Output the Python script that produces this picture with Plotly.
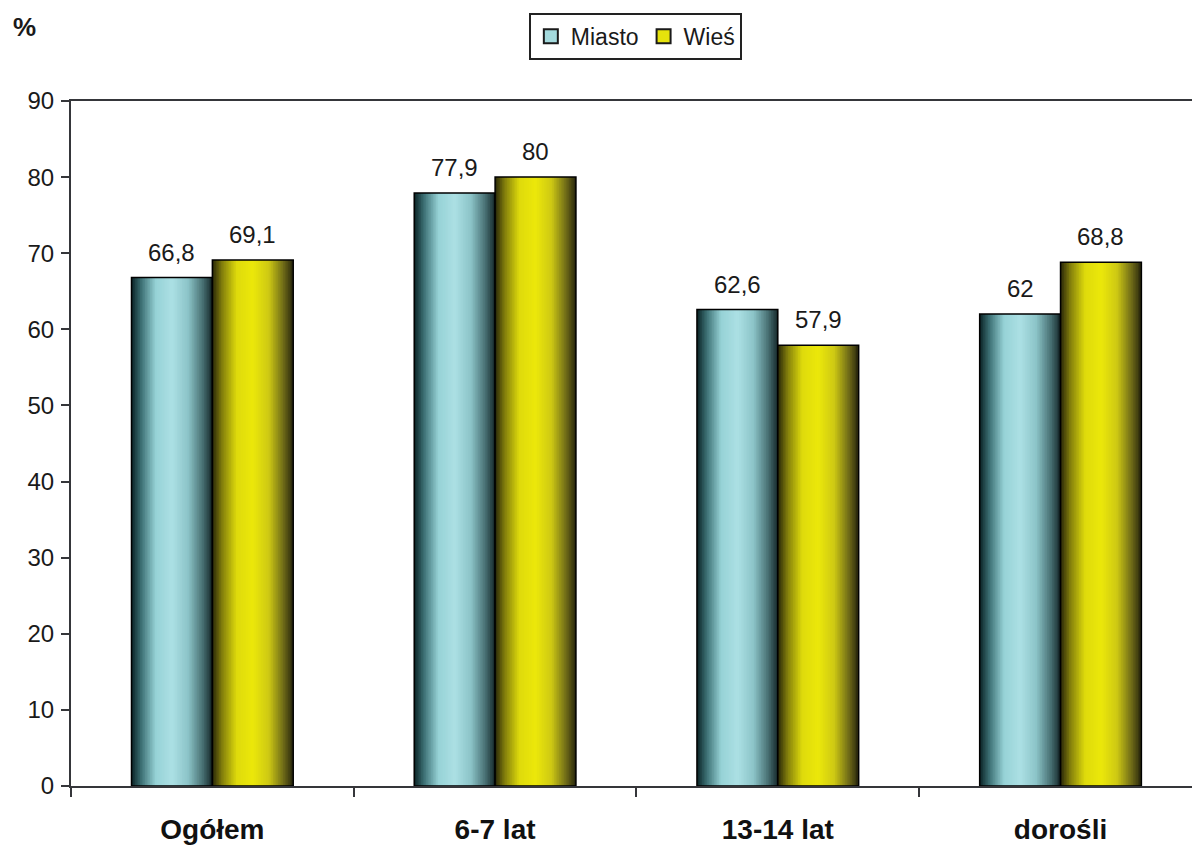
import numpy as np
import plotly.graph_objects as go

# Data
categories = ["Ogółem", "6-7 lat", "13-14 lat", "dorośli"]
miasto = [66.8, 77.9, 62.6, 62.0]
wies = [69.1, 80.0, 57.9, 68.8]
series_names = ["Miasto", "Wieś"]
y_ticks = [0, 10, 20, 30, 40, 50, 60, 70, 80, 90]

FONT = "Liberation Sans, Arial, sans-serif"
TEXT = "#1a1a1a"
AXIS = "#35363a"

BAR_W = 0.286      # width of one bar in category units
N_SLICES = 48      # vertical strips used to shade each bar like a cylinder

# horizontal shading profiles (position across bar -> colour)
grad_miasto = [(0.00, (10, 34, 36)), (0.12, (60, 112, 116)), (0.30, (150, 210, 214)),
               (0.50, (172, 224, 228)), (0.70, (140, 196, 200)), (0.88, (72, 112, 115)),
               (1.00, (22, 40, 42))]
grad_wies = [(0.00, (40, 38, 8)), (0.12, (130, 126, 12)), (0.30, (222, 218, 12)),
             (0.50, (236, 232, 10)), (0.70, (205, 200, 20)), (0.88, (110, 106, 24)),
             (1.00, (40, 38, 12))]


def shade(stops, t):
    xs = [s[0] for s in stops]
    rgb = [np.interp(t, xs, [s[1][k] for s in stops]) for k in range(3)]
    return "rgb({:d},{:d},{:d})".format(*[int(round(c)) for c in rgb])


def fmt(v):
    return f"{v:g}".replace(".", ",")


fig = go.Figure()
annotations = []

step = BAR_W / N_SLICES
for values, stops, start in [(miasto, grad_miasto, -BAR_W), (wies, grad_wies, 0.0)]:
    for i in range(N_SLICES):
        t = (i + 0.5) / N_SLICES
        w = min(step * 1.8, BAR_W - i * step)
        fig.add_trace(go.Bar(
            x=categories, y=values, offset=start + i * step, width=w,
            marker=dict(color=shade(stops, t), line=dict(width=0)),
            showlegend=False, hoverinfo="skip",
        ))
    # outline
    fig.add_trace(go.Bar(
        x=categories, y=values, offset=start, width=BAR_W,
        marker=dict(color="rgba(0,0,0,0)", line=dict(color="#000000", width=1.5)),
        showlegend=False,
    ))
    # value labels above each bar
    for k, v in enumerate(values):
        annotations.append(dict(
            x=k + start + BAR_W / 2, y=v, xref="x", yref="y",
            text=fmt(v), showarrow=False, xanchor="center", yanchor="bottom",
            yshift=10, font=dict(family=FONT, size=24, color=TEXT),
        ))

# legend entries
for name, col in zip(series_names, ["#a4dadd", "#e6e30c"]):
    fig.add_trace(go.Scatter(
        x=[None], y=[None], name=name, mode="markers",
        marker=dict(symbol="square", size=14, color=col,
                    line=dict(color="#1a1a1a", width=2)),
    ))

annotations.append(dict(
    text="%", xref="paper", yref="paper", x=-0.0535, y=1.108,
    xanchor="left", yanchor="middle", showarrow=False,
    font=dict(family=FONT, size=26, color=TEXT, weight="bold"),
))

fig.update_layout(
    width=1192, height=849,
    margin=dict(l=71, r=0, t=101, b=63),
    paper_bgcolor="white", plot_bgcolor="white",
    barmode="overlay",
    font=dict(family=FONT, color=TEXT),
    legend=dict(
        orientation="h", xref="container", yref="container",
        x=0.533, y=0.985, xanchor="center", yanchor="top",
        bordercolor="#222222", borderwidth=2,
        font=dict(family=FONT, size=23, color=TEXT),
        itemwidth=30, traceorder="normal",
    ),
    xaxis=dict(
        type="category", categoryorder="array", categoryarray=categories,
        range=[-0.5, 3.465],
        showline=True, linecolor=AXIS, linewidth=2, mirror=True,
        ticks="outside", tickson="boundaries", ticklen=9, tickwidth=2, tickcolor=AXIS,
        tickfont=dict(family=FONT, size=28, color="#111111", weight="bold"),
        ticklabelstandoff=17,
        showgrid=False,
    ),
    yaxis=dict(
        range=[0, 90], tickvals=y_ticks,
        showline=True, linecolor=AXIS, linewidth=2,
        ticks="outside", ticklen=8, tickwidth=2, tickcolor=AXIS,
        tickfont=dict(family=FONT, size=24, color=TEXT),
        ticklabelstandoff=2,
        showgrid=False, zeroline=False,
    ),
    annotations=annotations,
)

fig.write_html("out.html")
